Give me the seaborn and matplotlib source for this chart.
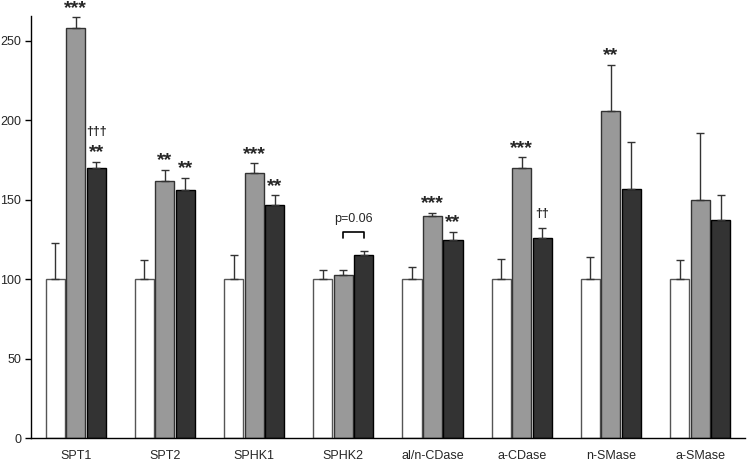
import numpy as np
import pandas as pd
import matplotlib
matplotlib.use("Agg")
import matplotlib.pyplot as plt
import seaborn as sns

genes = ["SPT1", "SPT2", "SPHK1", "SPHK2", "al/n-CDase", "a-CDase", "n-SMase", "a-SMase"]
groups = ["control", "treat1", "treat2"]

control_mean = [100, 100, 100, 100, 100, 100, 100, 100]
control_err = [23, 12, 15, 6, 8, 13, 14, 12]
treat1_mean = [258, 162, 167, 103, 140, 170, 206, 150]
treat1_err = [7, 7, 6, 3, 2, 7, 29, 42]
treat2_mean = [170, 156, 147, 115, 125, 126, 157, 137]
treat2_err = [4, 8, 6, 3, 5, 6, 29, 16]

# annotation text above bars: (gene index, group index, text)
marks = [
    (0, 1, "***"), (0, 2, "**"), (1, 1, "**"), (1, 2, "**"),
    (2, 1, "***"), (2, 2, "**"), (4, 1, "***"), (4, 2, "**"),
    (5, 1, "***"), (6, 1, "**"),
]
daggers = [(0, 2, "\u2020\u2020\u2020", 19), (5, 2, "\u2020\u2020", 8)]

df = pd.DataFrame({
    "gene": genes * 3,
    "group": [g for g in groups for _ in genes],
    "value": control_mean + treat1_mean + treat2_mean,
})

sns.set_style("white")
plt.rcParams["font.family"] = ["Liberation Sans", "DejaVu Sans"]

fig = plt.figure(figsize=(7.47, 4.62), dpi=100)
ax = fig.add_axes([0.0415, 0.0509, 0.9555, 0.9145])

palette = {"control": "#ffffff", "treat1": "#999999", "treat2": "#333333"}
sns.barplot(data=df, x="gene", y="value", hue="group", palette=palette,
            width=0.69, gap=0.07, errorbar=None, legend=False, ax=ax,
            saturation=1)

edges = ["#555555", "#333333", "#000000"]
errs = [control_err, treat1_err, treat2_err]
tops = {}
bar_containers = list(ax.containers)
for gi, cont in enumerate(bar_containers):
    for i, bar in enumerate(cont.patches):
        bar.set_edgecolor(edges[gi])
        bar.set_linewidth(1.0)
        xc = bar.get_x() + bar.get_width() / 2
        h = bar.get_height()
        ax.errorbar(xc, h, yerr=[[0], [errs[gi][i]]], fmt="none",
                    ecolor="#333333", elinewidth=1.0, capsize=3, capthick=1.0,
                    zorder=1)
        tops[(i, gi)] = (xc, h + errs[gi][i])

for i, gi, txt in marks:
    xc, top = tops[(i, gi)]
    ax.annotate(txt, (xc, top), xytext=(0, 3), textcoords="offset points",
                ha="center", va="baseline", fontsize=14, fontweight="bold",
                annotation_clip=False)
for i, gi, txt, off in daggers:
    xc, top = tops[(i, gi)]
    ax.annotate(txt, (xc, top), xytext=(0, off), textcoords="offset points",
                ha="center", va="baseline", fontsize=9, fontweight="bold",
                annotation_clip=False)

# p=0.06 bracket on SPHK2
x1 = tops[(3, 1)][0]
x2 = tops[(3, 2)][0]
ax.plot([x1, x1, x2, x2], [126, 130, 130, 126], color="black", lw=1.2)
ax.text((x1 + x2) / 2, 136, "p=0.06", ha="center", va="baseline", fontsize=9)

ax.set_ylim(0, 265.5)
ax.set_xlim(-0.5, len(genes) - 0.5)
ax.set_yticks([0, 50, 100, 150, 200, 250])
ax.set_xlabel("")
ax.set_ylabel("")
ax.set_xticks(np.arange(len(genes)))
ax.set_xticklabels(genes)
ax.set_xticks(np.arange(len(genes) + 1) - 0.5, minor=True)
ax.tick_params(axis="x", which="major", length=0, labelsize=9, pad=8)
ax.tick_params(axis="x", which="minor", length=4, width=1, color="black",
               direction="out")
ax.tick_params(axis="y", length=4, width=1, color="black", direction="out",
               labelsize=9, left=True, pad=3)
for s in ["top", "right"]:
    ax.spines[s].set_visible(False)
for s in ["left", "bottom"]:
    ax.spines[s].set_color("black")
    ax.spines[s].set_linewidth(1.0)

fig.savefig("out.png", dpi=100)
